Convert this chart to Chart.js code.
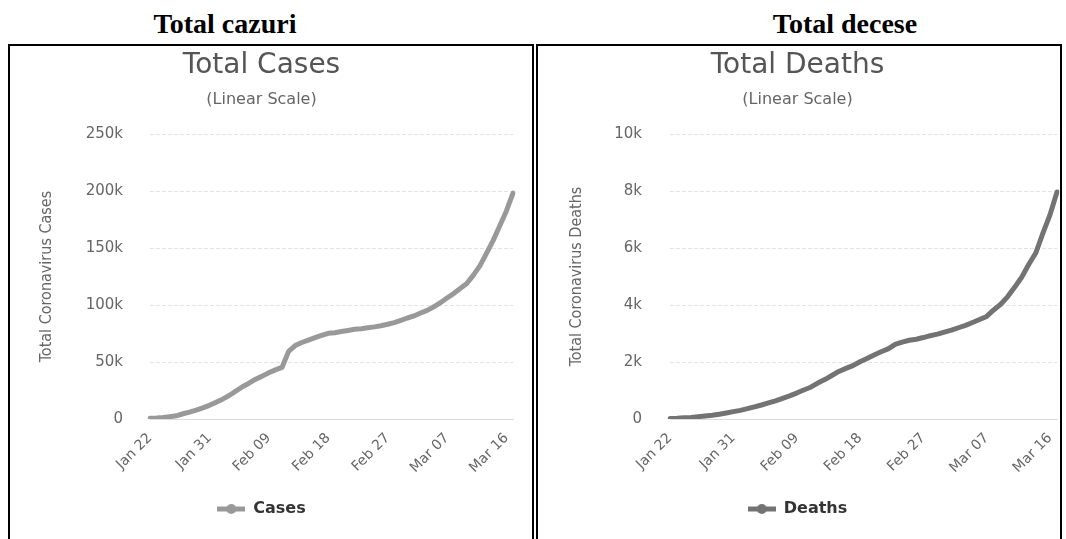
<!DOCTYPE html>
<html>
<head>
<meta charset="utf-8">
<script src="https://cdn.jsdelivr.net/npm/chart.js@4.4.1/dist/chart.umd.min.js"></script>
<style>
  body { margin: 0; background: #fff; width: 1066px; height: 539px; overflow: hidden; position: relative; }
  .heading { position: absolute; top: 8px; width: 300px; text-align: center; font: bold 28px 'Liberation Serif', 'Times New Roman', serif; color: #000; line-height: 32px; }
  .panel { position: absolute; top: 44px; height: 540px; border: 2px solid #000; }
  .wrap { position: absolute; top: 46px; height: 493px; }
</style>
</head>
<body>
<div class="heading" style="left: 75px;">Total cazuri</div>
<div class="heading" style="left: 695px;">Total decese</div>
<div class="panel" style="left: 8px; width: 522px;"></div>
<div class="panel" style="left: 536px; width: 522px;"></div>
<div class="wrap" style="left: 10px; width: 506px;"><canvas id="casesChart"></canvas></div>
<div class="wrap" style="left: 538px; width: 524px;"><canvas id="deathsChart"></canvas></div>

<script>
const dates = [
  'Jan 22', 'Jan 23', 'Jan 24', 'Jan 25', 'Jan 26', 'Jan 27', 'Jan 28', 'Jan 29', 'Jan 30', 'Jan 31',
  'Feb 01', 'Feb 02', 'Feb 03', 'Feb 04', 'Feb 05', 'Feb 06', 'Feb 07', 'Feb 08', 'Feb 09', 'Feb 10',
  'Feb 11', 'Feb 12', 'Feb 13', 'Feb 14', 'Feb 15', 'Feb 16', 'Feb 17', 'Feb 18', 'Feb 19', 'Feb 20',
  'Feb 21', 'Feb 22', 'Feb 23', 'Feb 24', 'Feb 25', 'Feb 26', 'Feb 27', 'Feb 28', 'Feb 29', 'Mar 01',
  'Mar 02', 'Mar 03', 'Mar 04', 'Mar 05', 'Mar 06', 'Mar 07', 'Mar 08', 'Mar 09', 'Mar 10', 'Mar 11',
  'Mar 12', 'Mar 13', 'Mar 14', 'Mar 15', 'Mar 16', 'Mar 17'
];
const shownDates = ['Jan 22', 'Jan 31', 'Feb 09', 'Feb 18', 'Feb 27', 'Mar 07', 'Mar 16'];

const totalCases = [
  580, 850, 1300, 2000, 2800, 4600, 6100, 7800, 9800, 12000,
  14600, 17400, 20600, 24500, 28300, 31400, 34900, 37600, 40600, 43100,
  45200, 59300, 64400, 67100, 69200, 71300, 73300, 75200, 75700, 76700,
  77700, 78700, 79200, 80100, 80800, 81800, 83100, 84600, 86600, 88600,
  90400, 93000, 95300, 98400, 102000, 106100, 110000, 114400, 118900, 126200,
  134600, 145500, 156700, 169600, 182500, 198200
];
const totalDeaths = [
  17, 25, 41, 56, 80, 106, 132, 170, 213, 259,
  304, 362, 426, 492, 565, 638, 724, 813, 910, 1018,
  1115, 1261, 1383, 1526, 1669, 1775, 1873, 2009, 2126, 2247,
  2360, 2460, 2618, 2699, 2763, 2800, 2858, 2923, 2977, 3050,
  3117, 3202, 3285, 3387, 3494, 3599, 3827, 4025, 4296, 4628,
  4981, 5428, 5833, 6520, 7162, 7965
];

const casesTicks = [0, 50000, 100000, 150000, 200000, 250000];
const deathsTicks = [0, 2000, 4000, 6000, 8000, 10000];

Chart.defaults.font.family = "'DejaVu Sans', sans-serif";
Chart.defaults.color = '#666';

// small line + dot, like the legend symbol in the original
function legendIcon(color) {
  const c = document.createElement('canvas');
  c.width = 28;
  c.height = 12;
  const ctx = c.getContext('2d');
  ctx.strokeStyle = color;
  ctx.lineWidth = 5;
  ctx.beginPath();
  ctx.moveTo(0, 6);
  ctx.lineTo(28, 6);
  ctx.stroke();
  ctx.fillStyle = color;
  ctx.beginPath();
  ctx.arc(14, 6, 5, 0, Math.PI * 2);
  ctx.fill();
  return c;
}

function makeChart(id, cfg) {
  const ctx = document.getElementById(id).getContext('2d');
  return new Chart(ctx, {
    type: 'line',
    data: {
      labels: dates,
      datasets: [{
        label: cfg.label,
        data: cfg.values,
        borderColor: cfg.color,
        backgroundColor: cfg.color,
        borderWidth: 5,
        pointRadius: 0,
        tension: 0,
        borderCapStyle: 'round',
        borderJoinStyle: 'round',
        fill: false,
      }]
    },
    options: {
      responsive: true,
      maintainAspectRatio: false,
      animation: false,
      layout: { padding: { left: 0, right: cfg.padRight, top: 0, bottom: 12 } },
      plugins: {
        title: {
          display: true,
          text: cfg.title,
          color: '#555',
          font: { size: 28, weight: 'normal' },
          padding: { top: 3, bottom: 0 },
        },
        subtitle: {
          display: true,
          text: '(Linear Scale)',
          color: '#666',
          font: { size: 16 },
          padding: { top: 8, bottom: 24.2 },
        },
        legend: {
          position: 'bottom',
          labels: {
            usePointStyle: true,
            pointStyle: legendIcon(cfg.color),
            pointStyleWidth: 28,
            color: '#333',
            font: { size: 16, weight: 'bold' },
            padding: 10,
          }
        },
        tooltip: { enabled: false },
      },
      scales: {
        x: {
          afterFit: (s) => {
            s.height = 72;
            s.paddingRight = 0;
          },
          grid: { display: false, drawTicks: false },
          border: { display: true, color: '#dcdcdc' },
          ticks: {
            autoSkip: false,
            minRotation: 45,
            maxRotation: 45,
            padding: 11,
            color: '#666',
            font: { size: 14 },
            callback: function (value) {
              const lab = this.getLabelForValue(value);
              return shownDates.includes(lab) ? lab : '';
            }
          }
        },
        y: {
          min: 0,
          max: cfg.ticks[cfg.ticks.length - 1],
          afterFit: (s) => { s.width = cfg.yWidth; },
          afterBuildTicks: (s) => { s.ticks = cfg.ticks.map(v => ({ value: v })); },
          grid: { color: '#e3e3e3', drawTicks: false },
          border: { display: false, dash: [4, 2] },
          title: {
            display: true,
            text: cfg.yTitle,
            color: '#666',
            font: { family: "'Liberation Sans Narrow', 'DejaVu Sans Condensed', sans-serif", size: 16 },
            padding: { top: cfg.yTitlePad, bottom: 0 },
          },
          ticks: {
            padding: cfg.tickPad,
            color: '#666',
            font: { size: 15 },
            callback: (v) => v === 0 ? '0' : (v / 1000) + 'k'
          }
        }
      }
    }
  });
}

makeChart('casesChart', {
  label: 'Cases',
  title: 'Total Cases',
  yTitle: 'Total Coronavirus Cases',
  values: totalCases,
  ticks: casesTicks,
  color: '#999999',
  yWidth: 140,
  padRight: 3,
  tickPad: 27,
  yTitlePad: 27.4,
});

makeChart('deathsChart', {
  label: 'Deaths',
  title: 'Total Deaths',
  yTitle: 'Total Coronavirus Deaths',
  values: totalDeaths,
  ticks: deathsTicks,
  color: '#737373',
  yWidth: 132,
  padRight: 5,
  tickPad: 28,
  yTitlePad: 29.4,
});
</script>
</body>
</html>
